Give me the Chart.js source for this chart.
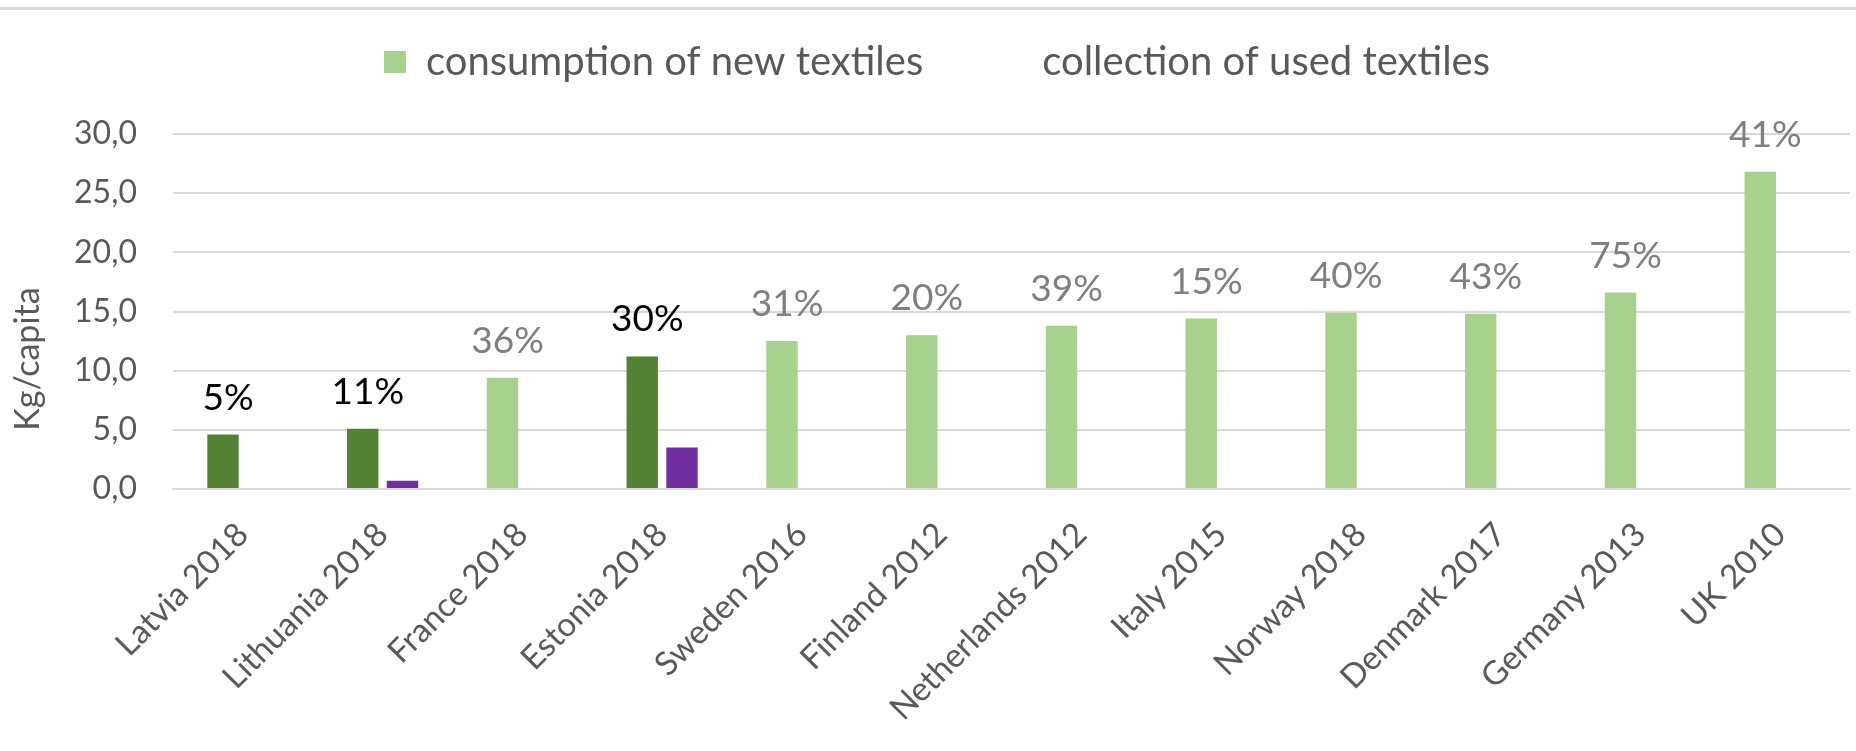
<!DOCTYPE html>
<html>
<head>
<meta charset="utf-8">
<script src="https://cdn.jsdelivr.net/npm/chart.js@4.4.1/dist/chart.umd.min.js"></script>
<style>
  html, body { margin: 0; padding: 0; background: #ffffff; }
  #wrap { position: relative; width: 1856px; height: 751px; }
  canvas { display: block; }
</style>
</head>
<body>
<div id="wrap"><canvas id="c" width="1856" height="751"></canvas></div>
<script>
// ---- data ----
const categories = ['Latvia 2018', 'Lithuania 2018', 'France 2018', 'Estonia 2018', 'Sweden 2016',
  'Finland 2012', 'Netherlands 2012', 'Italy 2015', 'Norway 2018', 'Denmark 2017', 'Germany 2013', 'UK 2010'];
const consumption = [4.6, 5.1, 9.4, 11.2, 12.5, 13.0, 13.8, 14.4, 14.9, 14.8, 16.6, 26.8];
const collection = [null, 0.7, null, 3.5, null, null, null, null, null, null, null, null];
const collectionRate = ['5%', '11%', '36%', '30%', '31%', '20%', '39%', '15%', '40%', '43%', '75%', '41%'];
const groups = ['Baltic', 'Baltic', 'Other', 'Baltic', 'Other', 'Other', 'Other', 'Other', 'Other', 'Other', 'Other', 'Other'];
const seriesNames = ['consumption of new textiles', 'collection of used textiles'];
const yTickLabels = ['0,0', '5,0', '10,0', '15,0', '20,0', '25,0', '30,0'];
const yTitle = 'Kg/capita';

// ---- styles ----
const COLORS = {
  Baltic: '#548235', Other: '#A9D18E', collection: '#7030A0',
  labelBaltic: '#000000', labelOther: '#7F7F7F', text: '#595959', grid: '#D9D9D9'
};
const FONT = 'Lato, "Open Sans", "DejaVu Sans", sans-serif';

const topLine = {
  id: 'topLine',
  beforeDraw(chart) {
    const ctx = chart.ctx;
    ctx.save();
    ctx.fillStyle = COLORS.grid;
    ctx.fillRect(0, 7, chart.width, 3);
    ctx.restore();
  }
};

const rateLabels = {
  id: 'rateLabels',
  afterDatasetsDraw(chart) {
    const meta = chart.getDatasetMeta(0);
    const ctx = chart.ctx;
    ctx.save();
    ctx.font = '37px ' + FONT;
    ctx.textAlign = 'center';
    ctx.textBaseline = 'alphabetic';
    meta.data.forEach((bar, i) => {
      ctx.fillStyle = groups[i] === 'Baltic' ? COLORS.labelBaltic : COLORS.labelOther;
      ctx.fillText(collectionRate[i], bar.x + 5, bar.y - 25);
    });
    ctx.restore();
  }
};

const yTitlePlugin = {
  id: 'yTitlePlugin',
  afterDraw(chart) {
    const { ctx, chartArea } = chart;
    ctx.save();
    ctx.translate(28, chartArea.top + (chartArea.bottom - chartArea.top) * 0.634);
    ctx.rotate(-Math.PI / 2);
    ctx.font = '34px ' + FONT;
    ctx.fillStyle = COLORS.text;
    ctx.textAlign = 'center';
    ctx.textBaseline = 'middle';
    ctx.fillText(yTitle, 0, 0);
    ctx.restore();
  }
};

function draw() {
  new Chart(document.getElementById('c'), {
    type: 'bar',
    data: {
      labels: categories,
      datasets: [
        {
          label: seriesNames[0],
          data: consumption,
          backgroundColor: groups.map(g => COLORS[g]),
          borderWidth: 0,
          categoryPercentage: 0.569,
          barPercentage: 0.79
        },
        {
          label: seriesNames[1],
          data: collection,
          backgroundColor: COLORS.collection,
          borderWidth: 0,
          categoryPercentage: 0.569,
          barPercentage: 0.79
        }
      ]
    },
    options: {
      responsive: false,
      animation: false,
      devicePixelRatio: 1,
      layout: { padding: { left: 24, right: 6, top: -35, bottom: 0 } },
      plugins: {
        tooltip: { enabled: false },
        legend: {
          position: 'top',
          align: 'center',
          labels: {
            boxWidth: 22,
            boxHeight: 22,
            padding: 77,
            color: COLORS.text,
            font: { family: FONT, size: 40 },
            generateLabels() {
              return [
                { text: seriesNames[0], fillStyle: COLORS.Other, strokeStyle: COLORS.Other, lineWidth: 0, hidden: false, datasetIndex: 0, fontColor: COLORS.text },
                { text: seriesNames[1], fillStyle: 'rgba(0,0,0,0)', strokeStyle: 'rgba(0,0,0,0)', lineWidth: 0, hidden: false, datasetIndex: 1, fontColor: COLORS.text }
              ];
            }
          }
        }
      },
      scales: {
        x: {
          grid: { display: false, drawTicks: false },
          border: { display: true, color: COLORS.grid, width: 2 },
          ticks: {
            color: COLORS.text,
            font: { family: FONT, size: 33 },
            minRotation: 45, maxRotation: 45,
            autoSkip: false,
            padding: 26
          },
          afterFit(s) { s.height = 262; }
        },
        xTop: {
          type: 'category',
          position: 'top',
          display: true,
          grid: { display: false, drawTicks: false },
          border: { display: false },
          ticks: { display: false },
          afterFit(s) { s.height = 42; }
        },
        y: {
          min: 0, max: 30,
          ticks: {
            stepSize: 5,
            color: COLORS.text,
            font: { family: FONT, size: 32 },
            padding: 36,
            callback: (v) => yTickLabels[Math.round(v / 5)]
          },
          grid: { color: COLORS.grid, lineWidth: 2, drawTicks: false },
          border: { display: false },
          afterFit(s) { s.width = 149; }
        }
      }
    },
    plugins: [topLine, rateLabels, yTitlePlugin]
  });
}

if (document.fonts && document.fonts.load) {
  Promise.all([document.fonts.load('32px Lato'), document.fonts.load('40px Lato')]).then(draw, draw);
} else {
  draw();
}
</script>
</body>
</html>
